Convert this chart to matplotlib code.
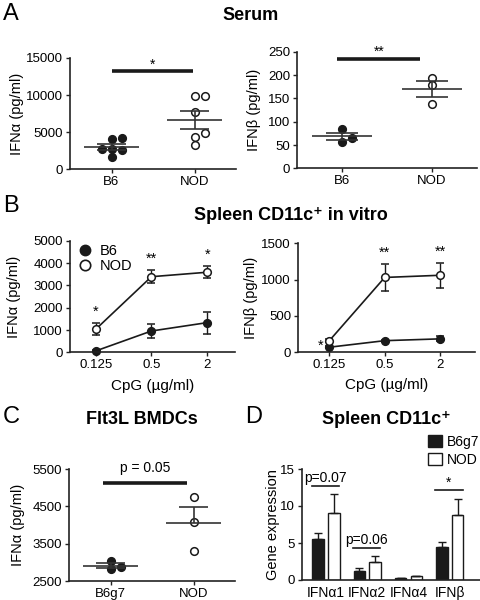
import numpy as np
import matplotlib
matplotlib.use("Agg")
import matplotlib.pyplot as plt
from matplotlib.lines import Line2D
from matplotlib.patches import Patch

plt.rcParams["font.family"] = ["Liberation Sans", "DejaVu Sans"]

# ---------------------------------------------------------------------------
# data
# ---------------------------------------------------------------------------
# A: serum
a_groups = ["B6", "NOD"]
a_ifna_b6 = [4230, 4000, 2700, 2700, 2600, 1660]
a_ifna_nod = [9860, 9860, 7660, 4820, 4280, 3200]
a_ifnb_b6 = [83.5, 65.6, 57.0]
a_ifnb_nod = [194.7, 179.7, 137.6]

# B: spleen CD11c+ in vitro, mean +/- sem
cpg = [0.125, 0.5, 2]
cpg_labels = ["0.125", "0.5", "2"]
b_ifna_b6 = [60, 955, 1330]
b_ifna_b6_sem = [40, 330, 490]
b_ifna_nod = [1030, 3390, 3590]
b_ifna_nod_sem = [270, 300, 280]
b_ifna_stars = ["*", "**", "*"]
b_ifnb_b6 = [70, 160, 185]
b_ifnb_b6_sem = [10, 15, 35]
b_ifnb_nod = [160, 1030, 1060]
b_ifnb_nod_sem = [20, 190, 170]
b_ifnb_stars = ["*", "**", "**"]

# C: Flt3L BMDCs
c_groups = ["B6g7", "NOD"]
c_b6g7 = [3036, 2813, 2884]
c_nod = [4760, 4090, 3312]

# D: gene expression
d_genes = ["IFNα1", "IFNα2", "IFNα4", "IFNβ"]
d_b6g7 = [5.56, 1.22, 0.27, 4.52]
d_b6g7_sem = [0.74, 0.45, 0.05, 0.58]
d_nod = [9.12, 2.48, 0.50, 8.72]
d_nod_sem = [2.48, 0.77, 0.10, 2.28]
d_sig = ["p=0.07", "p=0.06", "", "*"]

DARK = "#1a1a1a"
FS = 9.5
LFS = 10.5


def style(ax):
    for s in ("top", "right"):
        ax.spines[s].set_visible(False)
    for s in ("left", "bottom"):
        ax.spines[s].set_linewidth(1.2)
        ax.spines[s].set_color("#222222")
    ax.tick_params(direction="out", length=3, width=1, labelsize=FS, pad=2,
                   color="#222222")


def swarm(ax, vals, xc, step_px=10, min_px=7):
    """простая раскладка точек, чтобы кружки не налезали друг на друга"""
    tr = ax.transData
    px_per_x = tr.transform((1, 0))[0] - tr.transform((0, 0))[0]
    placed = []
    offs = np.zeros(len(vals))
    for i in np.argsort(vals, kind="stable"):
        y = tr.transform((xc, vals[i]))[1]
        for k in (0, 1, -1, 2, -2):
            x = k * step_px
            if all(np.hypot(x - px, y - py) >= min_px for px, py in placed):
                break
        placed.append((x, y))
        offs[i] = x / px_per_x
    return offs


def dot_panel(ax, groups, data, fills, ylim, yticks, ylabel, bracket_y,
              bracket_x, bracket_txt, up_only=(False, False)):
    style(ax)
    ax.set_xlim(-0.5, 1.5)
    ax.set_ylim(*ylim)
    ax.set_yticks(yticks)
    ax.set_xticks(range(len(groups)), groups)
    ax.set_ylabel(ylabel, fontsize=LFS)
    for i, (vals, fc) in enumerate(zip(data, fills)):
        vals = np.asarray(vals, float)
        offs = swarm(ax, vals, i)
        ax.plot(i + offs, vals, "o", ms=5.5, mfc=fc, mec=DARK, mew=1.1,
                zorder=3, clip_on=False)
        m = vals.mean()
        se = vals.std(ddof=1) / np.sqrt(len(vals))
        ax.hlines(m, i - 0.33, i + 0.33, color="#333333", lw=1.2, zorder=4)
        lo = m if up_only[i] else m - se
        ax.vlines(i, lo, m + se, color="#333333", lw=1.2, zorder=4)
        caps = [m + se] if up_only[i] else [m + se, m - se]
        ax.hlines(caps, i - 0.175, i + 0.175, color="#333333", lw=1.2, zorder=4)
    ax.plot(bracket_x, [bracket_y, bracket_y], color=DARK, lw=2.6,
            solid_capstyle="butt")
    ax.text(np.mean(bracket_x), bracket_y, bracket_txt, ha="center",
            va="bottom", fontsize=FS + 0.5)


def line_panel(ax, b6, b6_sem, nod, nod_sem, stars, ylim, yticks, ylabel,
               first_star_left=False):
    style(ax)
    ax.set_xscale("log", base=2)
    ax.minorticks_off()
    ax.set_ylim(*ylim)
    ax.set_yticks(yticks)
    for m, se, fc, lab in ((b6, b6_sem, DARK, "B6"), (nod, nod_sem, "white", "NOD")):
        ax.errorbar(cpg, m, yerr=se, fmt="-o", color=DARK, lw=1.2, ms=5.5,
                    mfc=fc, mec=DARK, mew=1.1, capsize=3, capthick=1,
                    elinewidth=1, clip_on=False, label=lab)
    ax.set_xticks(cpg, cpg_labels)
    ax.set_ylabel(ylabel, fontsize=LFS)
    ax.set_xlabel("CpG (µg/ml)", fontsize=11)
    ax.xaxis.set_label_coords(0.5, -0.24)
    for j, s in enumerate(stars):
        top = nod[j] + nod_sem[j]
        if j == 0 and first_star_left:
            ax.annotate(s, (cpg[j], nod[j]), xytext=(-4, -4),
                        textcoords="offset points", ha="right", va="center",
                        fontsize=FS + 1)
        else:
            ax.annotate(s, (cpg[j], top), xytext=(0, 3),
                        textcoords="offset points", ha="center", va="bottom",
                        fontsize=FS + 1)


W, H = 481, 600
fig = plt.figure(figsize=(W / 100, H / 100), dpi=100)


def axes_px(x0, y_top, x1, y_bot):
    return fig.add_axes([x0 / W, 1 - y_bot / H, (x1 - x0) / W, (y_bot - y_top) / H])


# ---- A ----
ax = axes_px(70, 58, 236, 169)
dot_panel(ax, a_groups, [a_ifna_b6, a_ifna_nod], [DARK, "white"], (0, 15000),
          [0, 5000, 10000, 15000], "IFNα (pg/ml)", 13200, [0, 0.98], "*")
ax.yaxis.set_label_coords(-0.28, 0.5)

ax = axes_px(297, 51.7, 477, 168.4)
dot_panel(ax, a_groups, [a_ifnb_b6, a_ifnb_nod], [DARK, "white"], (0, 250),
          [0, 50, 100, 150, 200, 250], "IFNβ (pg/ml)", 235, [-0.05, 0.87], "**")
ax.yaxis.set_label_coords(-0.2, 0.5)

# ---- B ----
ax = axes_px(70, 240.8, 235, 352.3)
ax.set_xlim(0.066, 4)
line_panel(ax, b_ifna_b6, b_ifna_b6_sem, b_ifna_nod, b_ifna_nod_sem,
           b_ifna_stars, (0, 5000), [0, 1000, 2000, 3000, 4000, 5000],
           "IFNα (pg/ml)")
ax.yaxis.set_label_coords(-0.3, 0.5)
handles = [Line2D([], [], ls="", marker="o", ms=7.5, mfc=DARK, mec=DARK),
           Line2D([], [], ls="", marker="o", ms=7.5, mfc="white", mec=DARK, mew=1.2)]
ax.legend(handles, ["B6", "NOD"], loc="upper left", bbox_to_anchor=(-0.04, 1.06),
          frameon=False, fontsize=10.5, handletextpad=0.3, labelspacing=0.05,
          borderpad=0.2, handlelength=1.5)

ax = axes_px(298, 243.3, 475, 352.3)
ax.set_xlim(0.057, 4.8)
line_panel(ax, b_ifnb_b6, b_ifnb_b6_sem, b_ifnb_nod, b_ifnb_nod_sem,
           b_ifnb_stars, (0, 1500), [0, 500, 1000, 1500], "IFNβ (pg/ml)",
           first_star_left=True)
ax.yaxis.set_label_coords(-0.225, 0.5)

# ---- C ----
ax = axes_px(69, 469, 235, 581)
dot_panel(ax, c_groups, [c_b6g7, c_nod], [DARK, "white"], (2500, 5500),
          [2500, 3500, 4500, 5500], "IFNα (pg/ml)", 5118, [-0.09, 0.92],
          "p = 0.05", up_only=(False, True))
ax.texts[-1].set_position((0.42, 5330))
ax.yaxis.set_label_coords(-0.265, 0.5)

# ---- D ----
ax = axes_px(301.7, 469, 481, 580)
style(ax)
x = np.arange(len(d_genes))
bw, off = 0.28, 0.19
ax.bar(x - off, d_b6g7, bw, color=DARK, edgecolor=DARK, lw=1,
       yerr=[np.zeros(len(x)), d_b6g7_sem],
       error_kw=dict(capsize=3, elinewidth=1, capthick=1, ecolor=DARK))
ax.bar(x + off, d_nod, bw, color="white", edgecolor=DARK, lw=1,
       yerr=[np.zeros(len(x)), d_nod_sem],
       error_kw=dict(capsize=3, elinewidth=1, capthick=1, ecolor=DARK))
ax.set_xlim(-0.59, 3.76)
ax.set_ylim(0, 15)
ax.set_yticks([0, 5, 10, 15])
ax.set_xticks(x, d_genes)
ax.tick_params(axis="x", length=0, pad=4, labelsize=10)
ax.set_ylabel("Gene expression", fontsize=LFS)
ax.yaxis.set_label_coords(-0.12, 0.5)
for i, s in enumerate(d_sig):
    if not s:
        continue
    yb = max(d_b6g7[i] + d_b6g7_sem[i], d_nod[i] + d_nod_sem[i]) + 1.1
    ax.plot([i - 0.35, i + 0.32], [yb, yb], color=DARK, lw=1.2)
    ax.text(i - 0.02, yb + 0.1, s, ha="center", va="bottom", fontsize=FS + 0.5)
ax.legend([Patch(facecolor=DARK, edgecolor=DARK),
           Patch(facecolor="white", edgecolor=DARK)], ["B6g7", "NOD"],
          loc="upper left", bbox_to_anchor=(0.665, 1.37), frameon=False,
          fontsize=10, handlelength=1.0, handleheight=1.0, borderpad=0,
          labelspacing=0.3, handletextpad=0.35)

# ---- panel letters and titles ----
for lab, xx, yy in (("A", 3, 3), ("B", 3, 195), ("C", 3, 406), ("D", 245, 406)):
    fig.text(xx / W, 1 - yy / H, lab, fontsize=17, va="top", ha="left")
for txt, xx, yy in (("Serum", 251, 16), ("Spleen CD11c⁺ in vitro", 291, 216),
                    ("Flt3L BMDCs", 142, 420), ("Spleen CD11c⁺", 386, 420)):
    fig.text(xx / W, 1 - yy / H, txt, fontsize=13, fontweight="bold",
             ha="center", va="center")

fig.savefig("out.png", dpi=100)
